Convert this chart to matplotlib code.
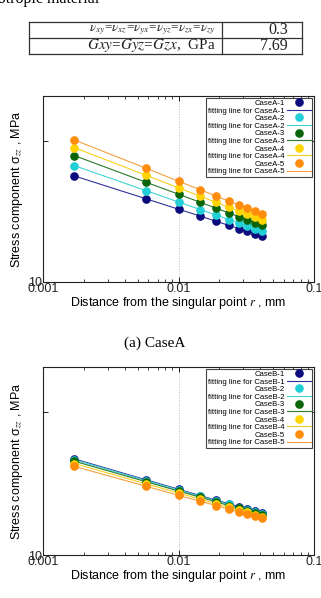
import matplotlib
matplotlib.use("Agg")
import matplotlib.pyplot as plt
from matplotlib.lines import Line2D

plt.rcParams['font.family'] = ['Liberation Sans', 'DejaVu Sans']

W, H = 321, 598

# distance from the singular point, mm
r_mm = [0.0017, 0.0058, 0.01, 0.0145, 0.019, 0.0235, 0.028, 0.032, 0.0365, 0.041]

# stress component sigma_zz, MPa
caseA_1 = [56.5, 38.8, 32.8, 29.3, 26.9, 25.2, 23.9, 23.0, 22.0, 21.3]
caseA_2 = [66.8, 44.3, 36.9, 32.6, 29.8, 27.7, 26.1, 25.0, 23.9, 23.0]
caseA_3 = [78.7, 50.8, 41.9, 36.7, 33.3, 30.9, 29.0, 27.7, 26.4, 25.4]
caseA_4 = [89.6, 56.9, 46.5, 40.5, 36.6, 33.9, 31.8, 30.2, 28.8, 27.6]
caseA_5 = [101.6, 63.8, 51.8, 45.0, 40.6, 37.4, 35.0, 33.3, 31.7, 30.3]

caseB_1 = [47.2, 33.6, 28.9, 26.1, 24.2, 22.9, 21.8, 21.0, 20.2, 19.6]
caseB_2 = [46.6, 33.2, 28.6, 25.8, 24.0, 22.6, 21.5, 20.7, 20.0, 19.4]
caseB_3 = [45.5, 32.6, 28.1, 25.4, 23.6, 22.2, 21.2, 20.4, 19.7, 19.1]
caseB_4 = [43.8, 31.5, 27.2, 24.6, 22.9, 21.6, 20.6, 19.9, 19.2, 18.6]
caseB_5 = [41.8, 30.3, 26.2, 23.8, 22.2, 20.9, 20.0, 19.3, 18.7, 18.1]

point_colors = ['#0b0b7d', '#22cfd6', '#0a640a', '#ffd400', '#ff8c0a']
line_colors = ['#30309a', '#40d4d8', '#2a7a2a', '#f2d020', '#f4a040']

table_rows = [r"$\nu_{xy}$=$\nu_{xz}$=$\nu_{yx}$=$\nu_{yz}$=$\nu_{zx}$=$\nu_{zy}$",
              r"$Gxy$=$Gyz$=$Gzx$,  GPa"]
table_vals = ["0.3", "7.69"]


def fx(x):
    return x / W


def fy(y):
    return 1 - y / H


fig = plt.figure(figsize=(W / 100, H / 100), dpi=100)
plt.rcParams['mathtext.fontset'] = 'stix'

# header text and table
fig.text(fx(99), fy(3), "orthotropic material", family='Liberation Serif', fontsize=11.5,
         ha='right', va='baseline')
for y in [22, 38, 54]:
    fig.add_artist(Line2D([fx(29), fx(302)], [fy(y), fy(y)], color='#333333', lw=0.9))
for x in [29, 222, 302]:
    fig.add_artist(Line2D([fx(x), fx(x)], [fy(22), fy(54)], color='#333333', lw=0.9))
for i, (label, val) in enumerate(zip(table_rows, table_vals)):
    yc = 30 + 16 * i
    fig.text(fx(216), fy(yc), label, family='Liberation Serif', fontsize=11 if i else 9.5,
             ha='right', va='center', color='#222222')
    fig.text(fx(288), fy(yc), val, family='Liberation Serif', fontsize=11.5,
             ha='right', va='center', color='#222222')

fig.text(fx(155), fy(343), "(a) CaseA", family='Liberation Serif', fontsize=11,
         ha='center', va='center')


def make_panel(rect, name, series):
    ax = fig.add_axes(rect)
    for i, vals in enumerate(series):
        ax.plot(r_mm, vals, 'o', color=point_colors[i], markersize=5.2,
                label=f"{name}-{i+1}", zorder=3)
        ax.plot(r_mm, vals, '-', color=line_colors[i], lw=0.8,
                label=f"fitting line for {name}-{i+1}", zorder=2)
    ax.set_xscale('log')
    ax.set_yscale('log')
    ax.set_xlim(0.001, 0.1)
    ax.set_ylim(10, 208)
    ax.set_xticks([0.001, 0.01, 0.1])
    ax.set_xticklabels(["0.001", "0.01", "0.1"])
    ax.set_yticks([10, 100])
    ax.set_yticklabels(["10", ""])
    ax.yaxis.set_minor_locator(matplotlib.ticker.NullLocator())
    ax.tick_params(which='both', direction='in', top=True, right=True,
                   labelsize=9, pad=1, colors='#222222')
    ax.tick_params(which='major', length=3.5, width=0.7)
    ax.tick_params(which='minor', length=2, width=0.6)
    for s in ax.spines.values():
        s.set_linewidth(0.8)
        s.set_color('#222222')
    ax.grid(axis='x', which='major', linestyle=':', color='#bbbbbb', lw=0.7)
    ax.set_xlabel(r"Distance from the singular point $r$ , mm", fontsize=9, labelpad=0)
    ax.set_ylabel(r"Stress component σ$_{zz}$ , MPa", fontsize=9, labelpad=2)
    leg = ax.legend(loc='upper right', markerfirst=False, fontsize=5.6, labelspacing=0.02,
                    handlelength=3.0, handletextpad=0.3, borderpad=0.25, borderaxespad=0.2,
                    fancybox=False, framealpha=1, edgecolor='#444444')
    leg.get_frame().set_linewidth(0.8)
    return ax


make_panel([fx(43), fy(282), fx(271), 186 / H], "CaseA",
           [caseA_1, caseA_2, caseA_3, caseA_4, caseA_5])
make_panel([fx(43), fy(555), fx(271), 188 / H], "CaseB",
           [caseB_1, caseB_2, caseB_3, caseB_4, caseB_5])

plt.savefig("out.png", dpi=100)
